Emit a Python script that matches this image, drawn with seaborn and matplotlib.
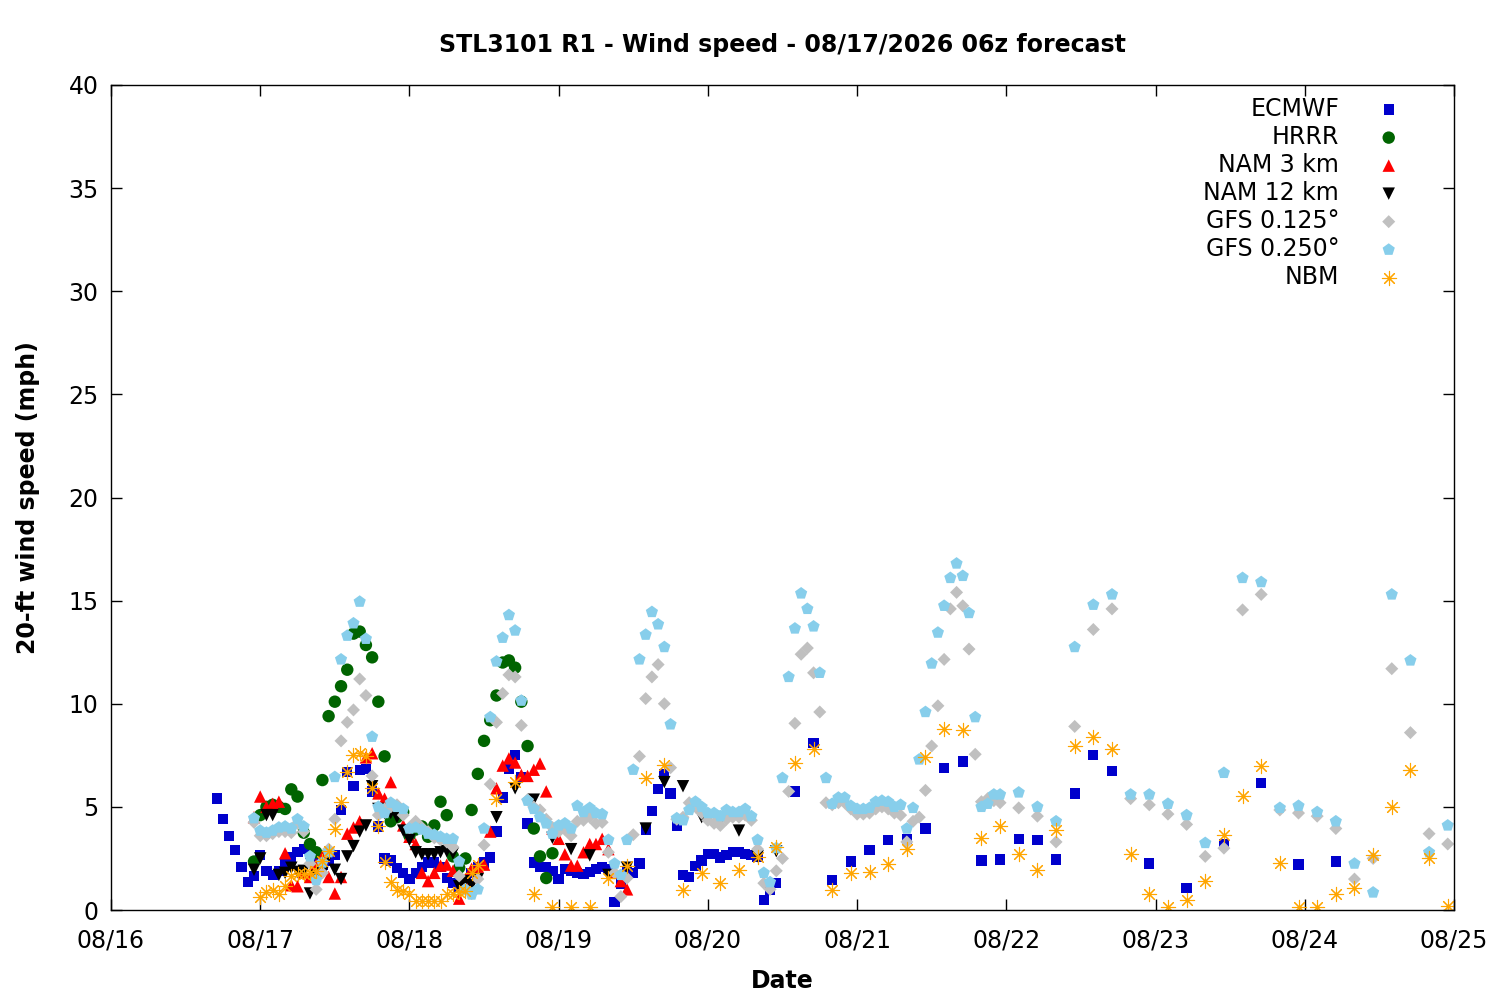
import pandas as pd
import numpy as np
import matplotlib
matplotlib.use("Agg")
import matplotlib.pyplot as plt
import matplotlib.dates as mdates
import seaborn as sns

# horas locales desde 2026-08-16 00:00
base = pd.Timestamp("2026-08-16 00:00")

# ECMWF: horario desde h17, luego cada 3 h desde h110, cada 6 h desde h167
ecmwf_1h = [5.4, 4.4, 3.6, 2.9, 2.1, 1.35, 1.65, 2.65, 1.9, 1.7, 1.9, 2.2, 2.55, 2.8, 2.95,
            2.7, 2.4, 2.2, 2.4, 2.65, 4.85, 6.7, 6.0, 6.8, 6.85, 5.75, 4.05, 2.5, 2.4, 2.05,
            1.8, 1.5, 1.8, 2.1, 2.3, 2.3, 2.1, 1.55, 1.3, 1.1, 1.4, 1.8, 2.1, 2.3, 2.55,
            3.8, 5.45, 6.85, 7.5, 6.45, 4.2, 2.3, 2.1, 2.1, 1.9, 1.5, 2.0, 1.9, 1.8, 1.75,
            1.85, 2.0, 2.1, 2.0, 0.4, 1.25, 1.9, 1.8, 2.25, 3.9, 4.8, 5.85, 6.6, 5.65, 4.1,
            1.7, 1.6, 2.15, 2.4, 2.7, 2.7, 2.55, 2.65, 2.8, 2.8, 2.7, 2.65, 2.6, 0.5, 1.0, 1.3]
ecmwf_3h = [5.75, 8.1, 1.45, 2.35, 2.9, 3.4, 3.45, 3.95, 6.9, 7.2, 2.4, 2.45, 3.45, 3.4,
            2.45, 5.65, 7.5, 6.75]
ecmwf_6h = [2.25, 1.05, 3.2, 6.15, 2.2, 2.35]

# HRRR: horario desde h23
hrrr_1h = [2.35, 4.6, 5.0, 5.1, 5.0, 4.9, 5.85, 5.5, 3.75, 3.2, 2.8, 6.3, 9.4, 10.1, 10.85,
           11.65, 13.4, 13.5, 12.85, 12.25, 10.1, 7.45, 4.3, 4.5, 4.75, 3.6, 3.9, 4.05, 3.55,
           4.1, 5.25, 4.6, 2.6, 2.05, 2.5, 4.85, 6.6, 8.2, 9.2, 10.4, 12.0, 12.1, 11.75, 10.1,
           7.95, 3.95, 2.6, 1.55, 2.75]

# NAM 3 km: horario desde h23
nam3_1h = [4.5, 5.5, 5.0, 5.15, 5.25, 2.75, 1.2, 1.15, 1.8, 1.6, 2.2, 2.6, 1.6, 0.8, 1.6,
           3.7, 4.0, 4.3, 7.4, 7.6, 5.65, 5.4, 6.2, 5.0, 4.1, 3.55, 3.2, 1.8, 1.4, 1.8, 2.15,
           2.2, 1.9, 0.55, 1.5, 2.0, 2.1, 2.2, 3.8, 5.9, 7.0, 7.35, 7.15, 6.55, 6.5, 6.8, 7.1,
           5.75, 3.95, 3.45, 2.7, 2.15, 2.15, 2.8, 3.2, 3.2, 3.45, 2.95, 1.8, 1.4, 1.0]

# NAM 12 km: horario desde h23, cada 3 h desde h62
nam12_1h = [1.95, 2.5, 4.6, 4.6, 1.7, 1.8, 2.05, 1.85, 1.9, 0.8, 1.65, 1.8, 2.6, 1.95, 1.5,
            2.6, 3.1, 3.8, 4.1, 6.0, 4.9, 4.7, 4.7, 4.5, 3.85, 3.4, 2.8, 2.7, 2.7, 2.7, 2.8,
            2.85, 2.75, 1.15, 1.4, 1.2, 1.5]
nam12_3h = [4.5, 5.9, 5.35, 3.5, 2.95, 2.65, 1.7, 2.05, 3.95, 6.2, 6.0, 4.5, 4.3, 3.85,
            2.6, 2.85]

# GFS 0.125: horario desde h23, cada 3 h desde h146
gfs0125_1h = [4.25, 3.6, 3.6, 3.7, 3.8, 3.8, 3.75, 4.2, 3.8, 2.25, 1.0, 1.8, 2.95, 4.4, 8.2,
              9.1, 9.7, 11.2, 10.4, 6.5, 4.6, 4.9, 5.0, 5.1, 4.6, 4.0, 4.3, 4.0, 3.8, 3.5,
              3.4, 3.3, 3.05, 1.65, 1.0, 0.8, 1.5, 3.15, 6.1, 9.1, 10.5, 11.4, 11.3, 8.95,
              5.35, 5.0, 4.85, 4.4, 4.0, 3.8, 3.9, 3.6, 4.3, 4.35, 4.5, 4.2, 4.25, 2.8, 1.8,
              0.65, 1.55, 3.65, 7.45, 10.25, 11.3, 11.9, 10.0, 6.9, 4.4, 4.5, 5.2, 5.0, 4.7,
              4.35, 4.2, 4.1, 4.4, 4.5, 4.5, 4.6, 4.35, 2.95, 1.3, 1.0, 1.9, 2.5, 5.75, 9.05,
              12.4, 12.7, 11.5, 9.6, 5.2, 5.1, 5.2, 5.2, 4.9, 4.65, 4.65, 4.7, 4.9, 5.0, 4.9,
              4.7, 4.6, 3.3, 4.3, 4.5, 5.8, 7.95, 9.9, 12.15, 14.6, 15.4, 14.75, 12.65, 7.55,
              5.25, 5.4, 5.3, 5.2]
gfs0125_3h = [4.95, 4.55, 3.3, 8.9, 13.6, 14.6, 5.4, 5.1, 4.65, 4.15, 2.6, 3.0, 14.55, 15.3,
              4.85, 4.7, 4.55, 3.95, 1.5, 2.5, 11.7, 8.6, 3.7, 3.2]

# GFS 0.250: horario desde h23, cada 3 h desde h146
gfs0250_1h = [4.45, 3.85, 3.75, 3.85, 4.0, 4.05, 3.95, 4.4, 4.05, 2.6, 1.45, 2.3, 2.8, 6.45,
              12.15, 13.3, 13.9, 14.95, 13.15, 8.4, 5.0, 4.7, 5.2, 5.0, 4.9, 3.95, 4.0, 3.9,
              3.7, 3.65, 3.55, 3.45, 3.45, 2.35, 1.0, 0.75, 1.0, 3.95, 9.35, 12.05, 13.2, 14.3,
              13.55, 10.15, 5.3, 4.9, 4.5, 4.2, 3.7, 4.1, 4.2, 3.95, 5.05, 4.75, 4.95, 4.7,
              4.65, 3.4, 2.25, 1.7, 3.4, 6.8, 12.15, 13.35, 14.45, 13.85, 12.75, 9.0, 4.45,
              4.35, 4.85, 5.25, 5.0, 4.7, 4.7, 4.55, 4.85, 4.75, 4.75, 4.9, 4.55, 3.4, 1.8,
              1.35, 3.0, 6.4, 11.3, 13.65, 15.35, 14.6, 13.75, 11.5, 6.4, 5.15, 5.45, 5.45,
              5.05, 4.9, 4.9, 4.95, 5.25, 5.3, 5.25, 5.0, 5.1, 3.95, 4.95, 7.3, 9.6, 11.95,
              13.45, 14.75, 16.1, 16.8, 16.2, 14.4, 9.35, 5.0, 5.15, 5.6, 5.6]
gfs0250_3h = [5.7, 5.0, 4.3, 12.75, 14.8, 15.3, 5.6, 5.6, 5.15, 4.6, 3.25, 6.65, 16.1, 15.9,
              4.95, 5.05, 4.75, 4.3, 2.25, 0.85, 15.3, 12.1, 2.8, 4.1]

# NBM: horario desde h24, cada 3 h desde h62
nbm_1h = [0.65, 0.85, 0.95, 0.8, 1.15, 1.65, 1.75, 1.75, 1.8, 1.9, 2.4, 2.85, 3.95, 5.25, 6.7,
          7.5, 7.6, 7.45, 5.9, 4.05, 2.35, 1.35, 0.95, 0.9, 0.8, 0.45, 0.45, 0.45, 0.45, 0.45,
          0.8, 0.8, 0.85, 0.9, 1.8, 2.2]
nbm_3h = [5.4, 6.2, 0.8, 0.15, 0.15, 0.15, 1.55, 2.15, 6.4, 7.05, 0.95, 1.8, 1.3, 1.95, 2.55,
          3.05, 7.15, 7.8, 0.95, 1.8, 1.85, 2.25, 2.95, 7.4, 8.8, 8.75, 3.5, 4.05, 2.7, 1.95,
          3.9, 7.95, 8.4, 7.8, 2.7, 0.8, 0.15, 0.5, 1.4, 3.65, 5.55, 7.0, 2.3, 0.15, 0.15,
          0.8, 1.05, 2.65, 5.0, 6.8, 2.5, 0.2]


def serie(modelo, tramos):
    filas = []
    for inicio, paso, vals in tramos:
        horas = inicio + paso * np.arange(len(vals))
        filas.append(pd.DataFrame({"fecha": base + pd.to_timedelta(horas, unit="h"),
                                   "viento": vals, "modelo": modelo}))
    return pd.concat(filas, ignore_index=True)


modelos = [
    ("ECMWF", [(17, 1, ecmwf_1h), (110, 3, ecmwf_3h), (167, 6, ecmwf_6h)], "s", "#0000cc", 55, None),
    ("HRRR", [(23, 1, hrrr_1h)], "o", "#006400", 80, None),
    ("NAM 3 km", [(23, 1, nam3_1h)], "^", "#ff0000", 80, None),
    ("NAM 12 km", [(23, 1, nam12_1h), (62, 3, nam12_3h)], "v", "#000000", 80, None),
    ("GFS 0.125°", [(23, 1, gfs0125_1h), (146, 3, gfs0125_3h)], "D", "#c0c0c0", 44, None),
    ("GFS 0.250°", [(23, 1, gfs0250_1h), (146, 3, gfs0250_3h)], "p", "#87ceeb", 85, None),
    ("NBM", [(24, 1, nbm_1h), (62, 3, nbm_3h)], (8, 2, 0), "#ffa500", 105, 0.8),
]

sns.set_style("ticks")
plt.rcParams["font.family"] = ["DejaVu Sans"]
for k in ["text.color", "axes.labelcolor", "xtick.color", "ytick.color", "axes.edgecolor"]:
    plt.rcParams[k] = "black"

fig, ax = plt.subplots(figsize=(15, 10), dpi=100)
fig.subplots_adjust(left=0.074, right=0.9693, top=0.915, bottom=0.09)

for nombre, tramos, marca, color, tam, lw in modelos:
    df = serie(nombre, tramos)
    kw = dict(edgecolor="none") if lw is None else dict(linewidths=lw)
    sns.scatterplot(data=df, x="fecha", y="viento", marker=marca, color=color, s=tam,
                    label=nombre, ax=ax, **kw)

ax.set_xlim(base, base + pd.Timedelta(days=9))
ax.set_ylim(0, 40)
ax.set_yticks(range(0, 41, 5))
ax.xaxis.set_major_locator(mdates.DayLocator())
ax.xaxis.set_major_formatter(mdates.DateFormatter("%m/%d"))
ax.tick_params(direction="in", top=True, right=True, length=8, width=1, labelsize=17)
ax.tick_params(axis="x", pad=13)
ax.tick_params(axis="y", pad=9)
for s in ax.spines.values():
    s.set_linewidth(1)
    s.set_visible(True)

ax.set_title("STL3101 R1 - Wind speed - 08/17/2026 06z forecast", fontsize=17,
             fontweight="bold", pad=24)
ax.set_xlabel("Date", fontsize=17, fontweight="bold", labelpad=12)
ax.set_ylabel("20-ft wind speed (mph)", fontsize=17, fontweight="bold", labelpad=20)

ax.legend(loc="upper right", frameon=False, markerfirst=False, fontsize=17,
          handletextpad=1.1, labelspacing=0.17, borderaxespad=0.1,
          bbox_to_anchor=(0.9778, 1.0))

plt.savefig("out.png")
